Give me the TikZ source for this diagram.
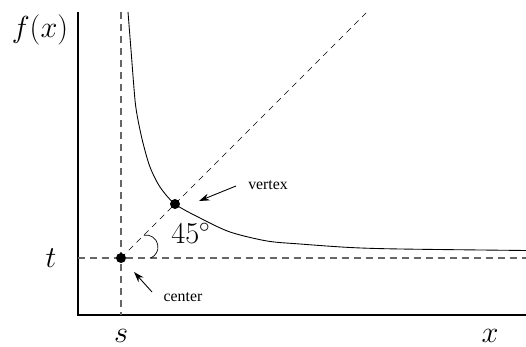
\documentclass[tikz,border=0pt]{standalone}
\usepackage{fontspec}
\newfontfamily\labelfont{Liberation Serif}
\usetikzlibrary{arrows.meta}

\begin{document}
\begin{tikzpicture}[x=0.02cm, y=0.02cm,
    axis/.style={line width=0.6pt},
    guide/.style={draw=black!60, line width=0.7pt, dash pattern=on 0.14cm off 0.1cm},
    diag/.style={line width=0.4pt, dash pattern=on 0.12cm off 0.1cm},
    dot/.style={circle, fill, inner sep=0pt, minimum size=0.2cm},
    mathlabel/.style={font=\LARGE},
    word/.style={font=\labelfont\small},
    pointer/.style={-{Stealth[length=6pt, width=4pt]}, line width=0.5pt}
]
\useasboundingbox (0,0) rectangle (526,347);
% axes
\coordinate (O) at (78,32);
\coordinate (ytop) at (78,335);
\coordinate (xend) at (526,32);
\draw[axis] (ytop) -- (O) -- (xend);
% asymptotes and the 45 degree line
\coordinate (stop) at (121,335);
\coordinate (sbot) at (121,32);
\coordinate (tleft) at (78,89);
\coordinate (tright) at (526,89);
\coordinate (diagend) at (366,334);
\draw[guide] (stop) -- (sbot);
\draw[guide] (tleft) -- (tright);
\node[dot] (center) at (121,89) {};
\node[dot] (vertex) at (175,143) {};
\draw[diag] (center.center) -- (diagend);
% the curve
\draw[line width=0.5pt] plot[smooth] coordinates {(128,335) (131,297) (135,247) (138,227) (143,204) (150,180) (160,160) (175,143) (200,129) (230,115) (267,106) (300,103) (350,99.5) (400,98) (526,96.5)};
\draw (143.8,111.8) arc[start angle=100.6, end angle=-66.4, radius=0.24cm];
% labels
\node[mathlabel] (fx) at (40,317) {$f(x)$};
\node[mathlabel] (tlab) at (51,89) {$t$};
\node[mathlabel] (slab) at (121,11) {$s$};
\node[mathlabel] (xlab) at (490,11) {$x$};
\node[font=\LARGE, anchor=base west, inner sep=0pt] (angle) at (171,103) {$45^\circ$};
\node[word] (vlab) at (268,162) {vertex};
\node[word] (clab) at (183,50) {center};
\coordinate (vtail) at (236,161);
\coordinate (vtip) at (199,146);
\coordinate (ctail) at (152,55);
\coordinate (ctip) at (134,75);
\draw[pointer] (vtail) -- (vtip);
\draw[pointer] (ctail) -- (ctip);
\end{tikzpicture}
\end{document}
